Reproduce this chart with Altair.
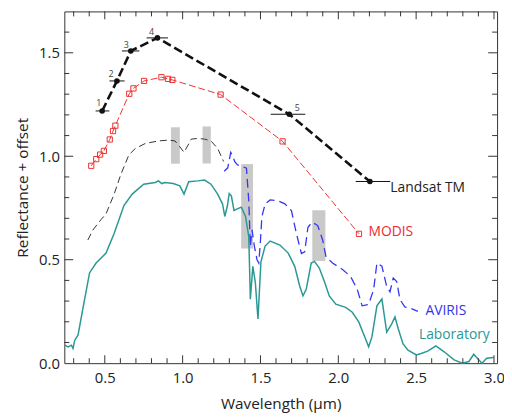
import altair as alt
import pandas as pd

# ---------------- data ----------------
# Landsat TM bands (centre, reflectance, band edges)
ls_w = [0.483, 0.578, 0.667, 0.838, 1.685, 2.203]
ls_v = [1.219, 1.364, 1.509, 1.572, 1.203, 0.878]
ls_lo = [0.441, 0.530, 0.610, 0.769, 1.566, 2.112]
ls_hi = [0.529, 0.627, 0.722, 0.906, 1.788, 2.334]
band_txt = ["1", "2", "3", "4", "5"]
band_w = [0.462, 0.540, 0.638, 0.800, 1.737]
band_v = [1.255, 1.398, 1.538, 1.602, 1.232]

# MODIS bands
md_w = [0.413, 0.445, 0.470, 0.494, 0.532, 0.553, 0.568, 0.657, 0.684, 0.752,
        0.864, 0.906, 0.934, 1.244, 1.642, 2.133]
md_v = [0.954, 0.986, 1.008, 1.026, 1.081, 1.122, 1.148, 1.302, 1.328, 1.364,
        1.382, 1.374, 1.369, 1.298, 1.072, 0.625]

# AVIRIS VNIR part (black dashed)
vn_w = [0.391, 0.423, 0.476, 0.508, 0.560, 0.603, 0.655, 0.697, 0.761, 0.845,
        0.908, 0.951, 0.982, 1.009, 1.035, 1.056, 1.098, 1.141, 1.182, 1.225, 1.263]
vn_v = [0.595, 0.643, 0.694, 0.722, 0.817, 0.912, 1.007, 1.038, 1.062, 1.074,
        1.078, 1.074, 1.046, 1.019, 1.054, 1.083, 1.086, 1.083, 1.074, 1.038, 0.975]

# AVIRIS SWIR part (blue dashed)
av_w = [1.267, 1.290, 1.309, 1.320, 1.335, 1.351, 1.383, 1.410, 1.425, 1.435,
        1.446, 1.461, 1.478, 1.489, 1.499, 1.509, 1.530, 1.562, 1.615, 1.657,
        1.699, 1.731, 1.763, 1.784, 1.805, 1.832, 1.868, 1.900, 1.921, 1.963,
        2.027, 2.079, 2.122, 2.153, 2.195, 2.227, 2.248, 2.280, 2.311, 2.332,
        2.353, 2.375, 2.396, 2.427, 2.470, 2.511]
av_v = [0.928, 0.944, 1.019, 1.004, 0.974, 0.959, 0.951, 0.942, 0.784, 0.564,
        0.644, 0.564, 0.500, 0.484, 0.579, 0.707, 0.770, 0.789, 0.784, 0.770,
        0.737, 0.626, 0.530, 0.538, 0.657, 0.681, 0.665, 0.594, 0.514, 0.484,
        0.453, 0.419, 0.356, 0.277, 0.284, 0.356, 0.484, 0.469, 0.370, 0.345,
        0.412, 0.395, 0.308, 0.272, 0.264, 0.250]

# Laboratory spectrum (teal solid)
lb_w = [0.244, 0.265, 0.286, 0.296, 0.307, 0.328, 0.359, 0.402, 0.444, 0.508,
        0.560, 0.623, 0.676, 0.750, 0.824, 0.845, 0.866, 0.887, 0.940, 0.982,
        1.009, 1.039, 1.098, 1.141, 1.182, 1.225, 1.256, 1.271, 1.288, 1.299,
        1.313, 1.330, 1.351, 1.377, 1.404, 1.425, 1.435, 1.451, 1.467, 1.484,
        1.503, 1.530, 1.562, 1.625, 1.678, 1.720, 1.752, 1.773, 1.794, 1.826,
        1.847, 1.878, 1.910, 1.942, 1.984, 2.047, 2.090, 2.132, 2.174, 2.195,
        2.216, 2.248, 2.280, 2.311, 2.343, 2.364, 2.385, 2.416, 2.448, 2.501,
        2.532, 2.574, 2.627, 2.680, 2.744, 2.796, 2.839, 2.870, 2.902, 2.923,
        2.953, 2.997]
lb_v = [0.087, 0.079, 0.087, 0.071, 0.111, 0.135, 0.262, 0.436, 0.484, 0.532,
        0.627, 0.762, 0.817, 0.865, 0.873, 0.881, 0.868, 0.873, 0.868, 0.857,
        0.817, 0.877, 0.881, 0.885, 0.865, 0.817, 0.770, 0.709, 0.762, 0.820,
        0.809, 0.738, 0.746, 0.754, 0.709, 0.611, 0.309, 0.468, 0.390, 0.214,
        0.490, 0.566, 0.590, 0.571, 0.532, 0.468, 0.373, 0.325, 0.357, 0.484,
        0.492, 0.460, 0.396, 0.325, 0.285, 0.270, 0.246, 0.198, 0.119, 0.079,
        0.127, 0.277, 0.310, 0.150, 0.190, 0.224, 0.166, 0.093, 0.063, 0.040,
        0.047, 0.058, 0.084, 0.055, 0.016, 0.000, 0.008, 0.043, 0.016, 0.000,
        0.024, 0.027]

# atmospheric water bands (grey boxes)
wb_x1 = [0.925, 1.128, 1.376, 1.833]
wb_x2 = [0.982, 1.181, 1.452, 1.917]
wb_y1 = [0.964, 0.965, 0.554, 0.494]
wb_y2 = [1.140, 1.144, 0.962, 0.739]

# series labels
lbl_txt = ["Landsat TM", "MODIS", "AVIRIS", "Laboratory"]
lbl_w = [2.334, 2.194, 2.560, 2.518]
lbl_v = [0.845, 0.633, 0.253, 0.134]
lbl_col = ["#222222", "#ee2a2a", "#3333ee", "#2a9894"]

# axis ticks
x_major = [0.5, 1.0, 1.5, 2.0, 2.5, 3.0]
x_minor = [0.3, 0.4, 0.6, 0.7, 0.8, 0.9, 1.1, 1.2, 1.3, 1.4, 1.6, 1.7, 1.8, 1.9,
           2.1, 2.2, 2.3, 2.4, 2.6, 2.7, 2.8, 2.9]
y_major = [0.5, 1.0, 1.5]
y_minor = [0.1, 0.2, 0.3, 0.4, 0.6, 0.7, 0.8, 0.9, 1.1, 1.2, 1.3, 1.4, 1.6]
y_labels = [0.0, 0.5, 1.0, 1.5]

# ---------------- chart ----------------
W, H = 438, 356
FONT = "Open Sans"
XT = "Wavelength (µm)"
YT = "Reflectance + offset"

xs = alt.Scale(domain=[0.24, 3.02], nice=False, zero=False)
ys = alt.Scale(domain=[0.0, 1.7], nice=False, zero=False)
xa = alt.Axis(values=x_major, format=".1f", ticks=False, tickSize=0, domain=False,
              grid=False, labelFontSize=15, labelPadding=8, titleFontSize=15.5,
              titlePadding=11, titleFontWeight="normal", labelFont=FONT, titleFont=FONT,
              labelColor="#222", titleColor="#222")
ya = alt.Axis(values=y_labels, format=".1f", ticks=False, tickSize=0, domain=False,
              grid=False, labelFontSize=15, labelPadding=5, titleFontSize=15.5,
              titlePadding=8, titleFontWeight="normal", labelFont=FONT, titleFont=FONT,
              labelColor="#222", titleColor="#222")


def X(f="w"):
    return alt.X(f"{f}:Q", scale=xs, axis=xa, title=XT)


def Y(f="v"):
    return alt.Y(f"{f}:Q", scale=ys, axis=ya, title=YT)


wb_df = pd.DataFrame({"x1": wb_x1, "x2": wb_x2, "y1": wb_y1, "y2": wb_y2})
rects = alt.Chart(wb_df).mark_rect(color="#c9c9c9").encode(
    x=X("x1"), x2="x2:Q", y=Y("y1"), y2="y2:Q",
)

vn = alt.Chart(pd.DataFrame({"w": vn_w, "v": vn_v})).mark_line(
    color="#333333", strokeWidth=1, strokeDash=[7, 4]).encode(x=X(), y=Y())
av = alt.Chart(pd.DataFrame({"w": av_w, "v": av_v})).mark_line(
    color="#3535f5", strokeWidth=1.3, strokeDash=[9, 5]).encode(x=X(), y=Y())
lb = alt.Chart(pd.DataFrame({"w": lb_w, "v": lb_v})).mark_line(
    color="#2a9894", strokeWidth=1.5).encode(x=X(), y=Y())

md_df = pd.DataFrame({"w": md_w, "v": md_v})
md_line = alt.Chart(md_df).mark_line(
    color="#ee3030", strokeWidth=1, strokeDash=[7, 3]).encode(x=X(), y=Y())
md_pts = alt.Chart(md_df).mark_point(
    shape="square", filled=False, color="#ee3030", size=28, strokeWidth=1,
    opacity=1).encode(x=X(), y=Y())

ls_df = pd.DataFrame({"w": ls_w, "v": ls_v, "lo": ls_lo, "hi": ls_hi})
ls_line = alt.Chart(ls_df).mark_line(
    color="#111111", strokeWidth=2.6, strokeDash=[9, 4]).encode(x=X(), y=Y())
ls_err = alt.Chart(ls_df).mark_rule(color="#111111", strokeWidth=1).encode(
    x=X("lo"), x2="hi:Q", y=Y())
ls_pts = alt.Chart(ls_df).mark_point(
    shape="circle", filled=True, color="#111111", size=32, opacity=1).encode(x=X(), y=Y())

band_df = pd.DataFrame({"w": band_w, "v": band_v, "t": band_txt})
band_lbl = alt.Chart(band_df).mark_text(
    font=FONT, fontSize=9, color="#444444").encode(x=X(), y=Y(), text="t:N")

lbl_df = pd.DataFrame({"w": lbl_w, "v": lbl_v, "t": lbl_txt, "c": lbl_col})
series_lbl = alt.Chart(lbl_df).mark_text(
    font=FONT, fontSize=14, align="left", baseline="middle").encode(
    x=X(), y=Y(), text="t:N", color=alt.Color("c:N", scale=None))

# inward ticks on all four sides
tick_col = "#333333"
xM = pd.DataFrame({"w": x_major})
xm = pd.DataFrame({"w": x_minor})
yM = pd.DataFrame({"v": y_major})
ym = pd.DataFrame({"v": y_minor})
ticks = []
for df, ln in ((xM, 8), (xm, 5)):
    ticks.append(alt.Chart(df).mark_rule(color=tick_col, strokeWidth=1).encode(
        x=X(), y=alt.value(H), y2=alt.value(H - ln)))
    ticks.append(alt.Chart(df).mark_rule(color=tick_col, strokeWidth=1).encode(
        x=X(), y=alt.value(0), y2=alt.value(ln)))
for df, ln in ((yM, 9), (ym, 5)):
    ticks.append(alt.Chart(df).mark_rule(color=tick_col, strokeWidth=1).encode(
        y=Y(), x=alt.value(0), x2=alt.value(ln)))
    ticks.append(alt.Chart(df).mark_rule(color=tick_col, strokeWidth=1).encode(
        y=Y(), x=alt.value(W), x2=alt.value(W - ln)))

chart = alt.layer(
    rects, vn, av, lb, md_line, md_pts, ls_line, ls_err, ls_pts,
    band_lbl, series_lbl, *ticks
).properties(
    width=W, height=H,
    padding={"left": 57, "top": 1, "right": 7, "bottom": 50},
    autosize=alt.AutoSizeParams(type="none"),
    background="white",
).configure_view(
    stroke="#333333", strokeWidth=1
)

chart.save("out.html", embed_options={"renderer": "svg", "actions": False})
